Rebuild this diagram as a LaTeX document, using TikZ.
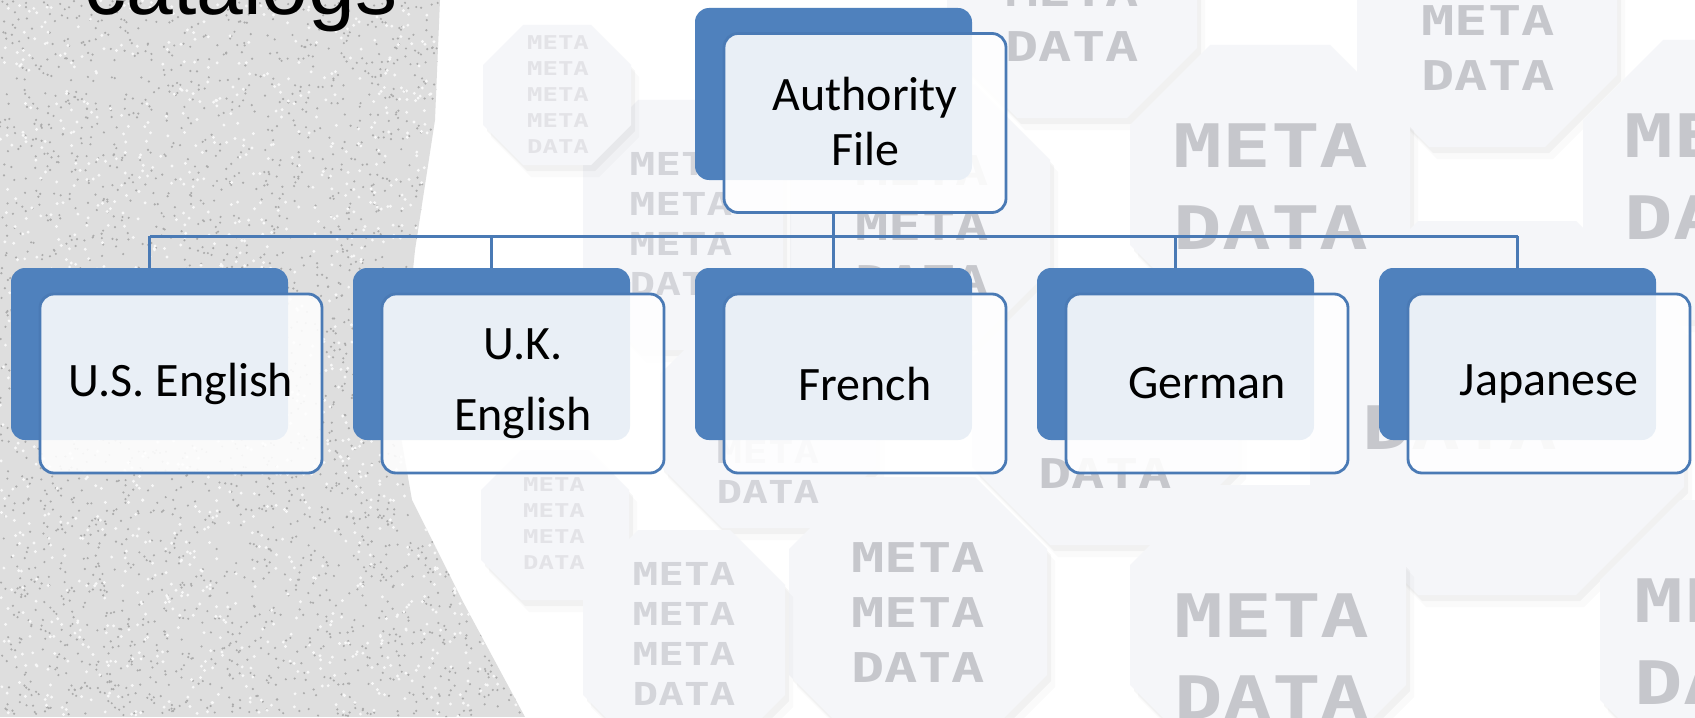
\documentclass[tikz,border=0pt]{standalone}
\usepackage{fontspec}
\setmainfont{Carlito}
\newfontfamily\titlefont{Liberation Sans}
\newfontfamily\metafont[FakeStretch=1.35]{DejaVu Sans Mono}
\usetikzlibrary{shadows}

\definecolor{boxblue}{HTML}{4F81BD}
\definecolor{edgeblue}{HTML}{4A7AB5}
\definecolor{octfill}{HTML}{F5F6F9}
\definecolor{metagray}{HTML}{C6C7CC}
\definecolor{metalight}{HTML}{D4D5DA}
\definecolor{metafaint}{HTML}{E3E3E7}
\definecolor{speckbase}{HTML}{DEDEDE}
\definecolor{speckdark}{HTML}{ABABAB}

\tikzset{
  back box/.style={fill=boxblue, rounded corners=7pt, inner sep=0,
                   minimum width=138.5pt, minimum height=86pt},
  front box/.style={draw=edgeblue, line width=1.4pt, fill=white,
                    fill opacity=0.88, text opacity=1, rounded corners=7pt,
                    inner sep=0, minimum width=141pt, minimum height=89.5pt,
                    align=center, font=\fontsize{24pt}{35.5pt}\selectfont},
  conn/.style={draw=edgeblue, line width=1.5pt},
  oct/.style={fill=octfill,
              drop shadow={opacity=0.07, shadow xshift=2pt, shadow yshift=-3pt},
              drop shadow={opacity=0.04, shadow xshift=4pt, shadow yshift=-6pt}},
}

% octagon tile: centre x, centre y, half width, half height, corner cut (px)
\newcommand{\octtile}[5]{%
  \fill[oct] (#1-#3+#5,#2-#4) -- (#1+#3-#5,#2-#4) -- (#1+#3,#2-#4+#5)
    -- (#1+#3,#2+#4-#5) -- (#1+#3-#5,#2+#4) -- (#1-#3+#5,#2+#4)
    -- (#1-#3,#2+#4-#5) -- (#1-#3,#2-#4+#5) -- cycle;}

\begin{document}
\begin{tikzpicture}[x=0.5pt, y=-0.5pt,
    meta big/.style={anchor=north, text=metagray, align=center, inner sep=0,
                     font=\metafont\bfseries\fontsize{30pt}{41pt}\selectfont},
    meta mid/.style={anchor=north, text=metagray, align=center, inner sep=0,
                     font=\metafont\bfseries\fontsize{20.5pt}{27.5pt}\selectfont},
    meta small/.style={anchor=north, text=metalight, align=center, inner sep=0,
                       font=\metafont\bfseries\fontsize{15.8pt}{20pt}\selectfont},
    meta tiny/.style={anchor=north, text=metafaint, align=center, inner sep=0,
                      font=\metafont\bfseries\fontsize{9.5pt}{13pt}\selectfont},
  ]
  \useasboundingbox (0,0) rectangle (1695,717);
  \fill[white] (0,0) rectangle (1695,717);

  % ======== speckled left part ========
  \begin{scope}
    \clip (0,0) -- (440,0) -- (435,120) -- (415,250) -- (398,420)
      -- (412,500) -- (462,600) -- (525,717) -- (0,717) -- cycle;
    \fill[speckbase] (0,0) rectangle (530,717);
    \pgfmathsetseed{42}
    \foreach \k in {1,...,3000} {
      \fill[speckdark] (530*rnd, 717*rnd) circle[radius=0.6pt];
    }
    \foreach \k in {1,...,1500} {
      \fill[white!80!speckbase] (530*rnd, 717*rnd) circle[radius=0.8pt];
    }
  \end{scope}

  % ======== META DATA tiles ========
  \octtile{1072}{-5}{125}{123}{70}
  \node[meta mid] (mM) at (1072,-24) {META\\DATA};
  \octtile{1487}{20}{130}{127}{72}
  \node[meta mid] (mC) at (1488,5) {META\\DATA};
  \octtile{920}{215}{130}{130}{75}
  \node[meta mid] (mL) at (922,155) {META\\META\\DATA};
  \octtile{683}{225}{100}{125}{55}
  \node[meta small] (mK) at (681,152) {META\\META\\META\\DATA};
  \octtile{557}{95}{74}{70}{40}
  \node[meta tiny] (mN) at (558,35) {META\\META\\META\\META\\DATA};
  \octtile{1270}{185}{140}{140}{80}
  \node[meta big] (mA) at (1271,123) {META\\DATA};
  \octtile{1723}{180}{140}{140}{80}
  \node[meta big] (mD) at (1722,113) {META\\DATA};
  \octtile{1497}{408}{187}{187}{108}
  \node[meta big] (mF) at (1460,405) {DATA};
  \octtile{1105}{412}{133}{133}{78}
  \node[meta mid] (mG) at (1105,403) {META\\DATA};
  \octtile{768}{420}{108}{108}{62}
  \node[meta small] (mH) at (768,440) {META\\DATA};
  \octtile{555}{525}{74}{75}{40}
  \node[meta tiny] (mO) at (554,477) {META\\META\\META\\DATA};
  \octtile{918}{612}{129}{135}{72}
  \node[meta mid] (mJ) at (918,542) {META\\META\\DATA};
  \octtile{684}{640}{101}{110}{55}
  \node[meta small] (mI) at (684,562) {META\\META\\META\\DATA};
  \octtile{1268}{625}{138}{140}{80}
  \node[meta big] (mB) at (1272,593) {META\\DATA};
  \octtile{1740}{640}{140}{140}{80}
  \node[meta big] (mE) at (1732,578) {META\\DATA};

  % title, cut by the top edge
  \node[anchor=base west, inner sep=0,
        font=\titlefont\fontsize{42pt}{50pt}\selectfont] (title) at (84,15) {catalogs};

  % ======== hierarchy ========
  \node[back box] (authB) at (833.5,94) {};
  \node[front box] (authF) at (865,123) {};
  \node[align=center, inner sep=0, font=\fontsize{24pt}{27.5pt}\selectfont]
    (authT) at ([yshift=1pt]authF.center) {Authority\\File};

  \foreach \i/\nm/\txt in {0/us/U.S. English, 1/uk/{U.K.\\English},
                           2/fr/French, 3/de/German, 4/ja/Japanese} {
    \node[back box] (\nm B) at (149.5+342*\i, 354) {};
    \node[front box] (\nm F) at (181+342*\i, 383.5) {\txt};
  }

  % connectors
  \coordinate (bus) at (0,236);
  \draw[conn] (authB.south |- authF.south) -- (authB.south |- bus);
  \draw[conn] (usB.north |- bus) -- (jaB.north |- bus);
  \foreach \nm in {us, uk, fr, de, ja}
    \draw[conn] (\nm B.north |- bus) -- (\nm B.north);
\end{tikzpicture}
\end{document}
